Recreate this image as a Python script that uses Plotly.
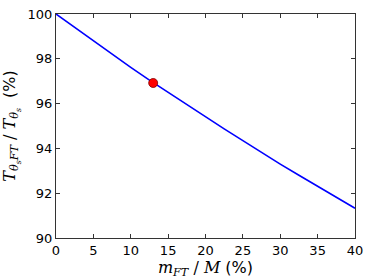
import plotly.graph_objects as go

m_ft = [0, 2.5, 5, 7.5, 10, 12.5, 15, 17.5, 20, 22.5, 25, 27.5, 30, 32.5, 35, 37.5, 40]
t_ratio = [100.0, 99.4, 98.8, 98.21, 97.62, 97.05, 96.5, 95.95, 95.4, 94.87,
           94.35, 93.82, 93.3, 92.8, 92.3, 91.81, 91.33]
point_x = [13]
point_y = [96.92]

x_ticks = [0, 5, 10, 15, 20, 25, 30, 35, 40]
y_ticks = [90, 92, 94, 96, 98, 100]

fig = go.Figure()
fig.add_trace(go.Scatter(x=m_ft, y=t_ratio, mode="lines",
                         line=dict(color="#0000ff", width=1.6),
                         showlegend=False))
fig.add_trace(go.Scatter(x=point_x, y=point_y, mode="markers",
                         marker=dict(color="#ff0000", size=9,
                                     line=dict(color="#800000", width=0.8)),
                         showlegend=False))

serif = "font-family:'DejaVu Serif'"
xlab = (f"<span style=\"{serif}\"><i>m</i><sub><i>FT</i></sub> / <i>M</i></span> (%)")
ylab = (f"<span style=\"{serif}\"><i>T</i><sub><i>θ<sub>s</sub>FT</i></sub> / "
        f"<i>T</i><sub><i>θ<sub>s</sub></i></sub></span>  (%)")

axis_common = dict(showline=True, linecolor="#333333", linewidth=1, mirror="ticks",
                   ticks="inside", ticklen=4, tickcolor="#333333", tickwidth=1,
                   showgrid=False, zeroline=False, automargin=False,
                   tickfont=dict(family="DejaVu Sans", size=13, color="black"))

fig.update_xaxes(range=[0, 40], tickvals=x_ticks, ticktext=[str(v) for v in x_ticks],
                 title=dict(text=xlab, font=dict(family="DejaVu Sans", size=16, color="black"),
                            standoff=0),
                 **axis_common)
fig.update_yaxes(range=[90, 100], tickvals=y_ticks, ticktext=[str(v) for v in y_ticks],
                 title=dict(text=ylab, font=dict(family="DejaVu Sans", size=16, color="black"),
                            standoff=8),
                 **axis_common)

fig.update_layout(width=374, height=280,
                  margin=dict(l=56, r=19, t=14, b=42),
                  paper_bgcolor="white", plot_bgcolor="white")

fig.write_html("out.html", config={"displayModeBar": False},
               post_script="document.body.style.margin='0';")
